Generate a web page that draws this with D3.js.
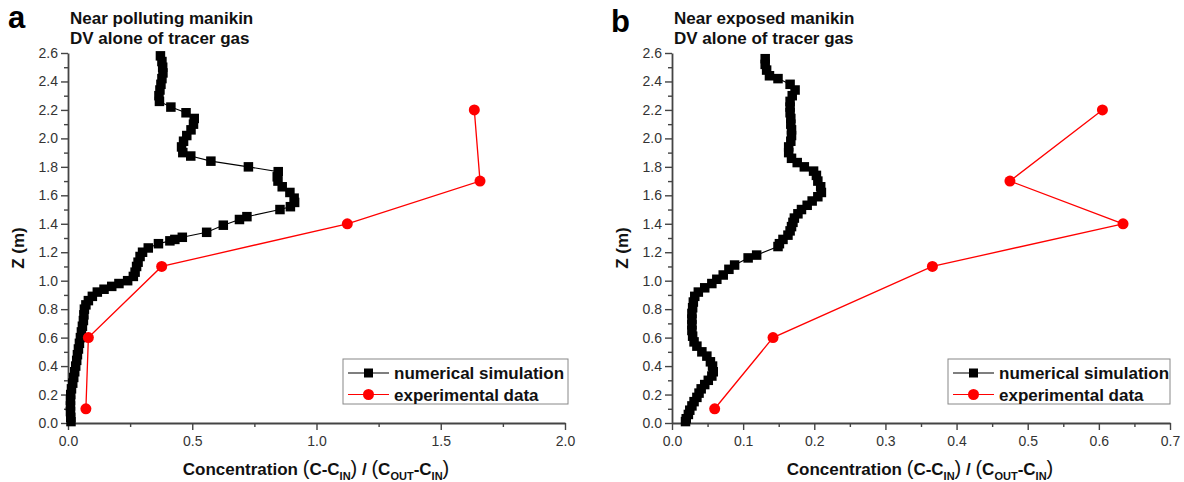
<!DOCTYPE html>
<html>
<head>
<meta charset="utf-8">
<script src="https://cdn.jsdelivr.net/npm/d3@7"></script>
<style>
  body { margin: 0; background: #fff; }
  svg { font-family: "Liberation Sans", Arial, sans-serif; }
</style>
</head>
<body>
<div id="chart"></div>
<script>
// panel a: near polluting manikin — numerical simulation [z, conc]
const simA = [
  [2.58, 0.372], [2.54, 0.378], [2.50, 0.381], [2.46, 0.382], [2.42, 0.378],
  [2.38, 0.374], [2.34, 0.370], [2.30, 0.366], [2.26, 0.368], [2.22, 0.414],
  [2.18, 0.475], [2.14, 0.508], [2.10, 0.505], [2.06, 0.495], [2.02, 0.478],
  [1.98, 0.465], [1.94, 0.457], [1.90, 0.462], [1.876, 0.494], [1.84, 0.575],
  [1.80, 0.726], [1.766, 0.846], [1.73, 0.842], [1.70, 0.845], [1.66, 0.862],
  [1.62, 0.893], [1.58, 0.910], [1.55, 0.912], [1.52, 0.895], [1.50, 0.853],
  [1.45, 0.720], [1.43, 0.690], [1.39, 0.625], [1.34, 0.558], [1.305, 0.460],
  [1.29, 0.430], [1.28, 0.410], [1.26, 0.364], [1.23, 0.323], [1.20, 0.300],
  [1.17, 0.290], [1.13, 0.282], [1.10, 0.276], [1.06, 0.270], [1.03, 0.263],
  [1.00, 0.240], [0.98, 0.205], [0.96, 0.176], [0.94, 0.145], [0.92, 0.118],
  [0.89, 0.098], [0.86, 0.082], [0.83, 0.072], [0.80, 0.066], [0.76, 0.064],
  [0.72, 0.062], [0.68, 0.058], [0.64, 0.054], [0.60, 0.050], [0.56, 0.046],
  [0.52, 0.042], [0.48, 0.038], [0.44, 0.035], [0.40, 0.031], [0.36, 0.027],
  [0.32, 0.023], [0.28, 0.019], [0.24, 0.014], [0.20, 0.011], [0.16, 0.010],
  [0.12, 0.010], [0.08, 0.010], [0.04, 0.011], [0.01, 0.012]
];
// panel a: experimental data [z, conc]
const expA = [[2.2, 1.635], [1.7, 1.658], [1.4, 1.124], [1.1, 0.377], [0.6, 0.082], [0.1, 0.072]];

// panel b: near exposed manikin — numerical simulation [z, conc]
const simB = [
  [2.56, 0.131], [2.52, 0.131], [2.48, 0.133], [2.44, 0.137], [2.42, 0.149],
  [2.38, 0.166], [2.34, 0.173], [2.30, 0.169], [2.26, 0.166], [2.22, 0.166],
  [2.18, 0.166], [2.14, 0.167], [2.10, 0.167], [2.06, 0.168], [2.02, 0.168],
  [1.98, 0.167], [1.94, 0.164], [1.90, 0.164], [1.86, 0.168], [1.83, 0.176],
  [1.80, 0.186], [1.77, 0.199], [1.74, 0.203], [1.70, 0.205], [1.66, 0.209],
  [1.62, 0.210], [1.59, 0.205], [1.56, 0.197], [1.53, 0.190], [1.50, 0.182],
  [1.47, 0.177], [1.44, 0.172], [1.41, 0.170], [1.38, 0.168], [1.35, 0.166],
  [1.32, 0.163], [1.29, 0.156], [1.26, 0.151], [1.24, 0.149], [1.18, 0.119],
  [1.16, 0.107], [1.11, 0.088], [1.08, 0.080], [1.04, 0.072], [1.01, 0.063],
  [0.98, 0.056], [0.95, 0.046], [0.92, 0.037], [0.89, 0.032], [0.85, 0.030],
  [0.81, 0.029], [0.77, 0.028], [0.73, 0.028], [0.69, 0.028], [0.65, 0.028],
  [0.61, 0.029], [0.57, 0.031], [0.54, 0.035], [0.50, 0.042], [0.47, 0.049],
  [0.43, 0.054], [0.40, 0.057], [0.36, 0.058], [0.33, 0.056], [0.30, 0.051],
  [0.27, 0.046], [0.24, 0.041], [0.21, 0.038], [0.18, 0.035], [0.15, 0.031],
  [0.12, 0.028], [0.09, 0.025], [0.06, 0.023], [0.03, 0.020], [0.01, 0.019]
];
// panel b: experimental data [z, conc]
const expB = [[2.2, 0.605], [1.7, 0.475], [1.4, 0.634], [1.1, 0.366], [0.6, 0.142], [0.1, 0.060]];

const yTicks = [0, 0.2, 0.4, 0.6, 0.8, 1.0, 1.2, 1.4, 1.6, 1.8, 2.0, 2.2, 2.4, 2.6];
const xTicksA = [0, 0.5, 1.0, 1.5, 2.0];
const xTicksB = [0, 0.1, 0.2, 0.3, 0.4, 0.5, 0.6, 0.7];
const legendLabels = ["numerical simulation", "experimental data"];

const W = 1184, H = 482;
const svg = d3.select("#chart").append("svg")
    .attr("width", W)
    .attr("height", H);

const axisColor = "#444";

function drawPanel(p) {
    const x = d3.scaleLinear().domain(p.xDomain).range([p.left, p.right]);
    const y = d3.scaleLinear().domain([0, 2.6]).range([423, 53]);
    const g = svg.append("g");

    // minor ticks halfway between majors
    const xMinor = [];
    for (let i = 0; i < p.xTicks.length - 1; i++) xMinor.push((p.xTicks[i] + p.xTicks[i + 1]) / 2);
    const yMinor = [];
    for (let i = 0; i < yTicks.length - 1; i++) yMinor.push((yTicks[i] + yTicks[i + 1]) / 2);

    g.append("g")
        .attr("transform", "translate(0,423)")
        .call(d3.axisBottom(x).tickValues(xMinor).tickSize(4).tickFormat(""))
        .call(a => a.select(".domain").remove());
    g.append("g")
        .attr("transform", `translate(${p.left},0)`)
        .call(d3.axisLeft(y).tickValues(yMinor).tickSize(4).tickFormat(""))
        .call(a => a.select(".domain").remove());

    const xAxis = g.append("g")
        .attr("transform", "translate(0,423)")
        .call(d3.axisBottom(x).tickValues(p.xTicks).tickSize(7).tickSizeOuter(0).tickPadding(6)
            .tickFormat(d3.format(".1f")));
    const yAxis = g.append("g")
        .attr("transform", `translate(${p.left},0)`)
        .call(d3.axisLeft(y).tickValues(yTicks).tickSize(7).tickSizeOuter(0).tickPadding(3)
            .tickFormat(d3.format(".1f")));

    g.selectAll(".tick line").attr("stroke", axisColor).attr("stroke-width", 1.4);
    [xAxis, yAxis].forEach(a => {
        a.select(".domain").attr("stroke", axisColor).attr("stroke-width", 1.8);
        a.selectAll("text").attr("font-size", 14).attr("fill", "#333")
            .attr("font-family", "Liberation Sans, Arial, sans-serif");
    });

    // numerical simulation
    const line = d3.line().x(d => x(d[1])).y(d => y(d[0]));
    g.append("path").datum(p.sim)
        .attr("d", line).attr("fill", "none").attr("stroke", "#000").attr("stroke-width", 1.1);
    const s = 9.5;
    g.selectAll(".sq").data(p.sim).enter().append("rect")
        .attr("x", d => x(d[1]) - s / 2).attr("y", d => y(d[0]) - s / 2)
        .attr("width", s).attr("height", s).attr("fill", "#000");

    // experimental data
    g.append("path").datum(p.exp)
        .attr("d", line).attr("fill", "none").attr("stroke", "#ff0000").attr("stroke-width", 1.3);
    g.selectAll(".dot").data(p.exp).enter().append("circle")
        .attr("cx", d => x(d[1])).attr("cy", d => y(d[0])).attr("r", 5.5)
        .attr("fill", "#ff0000");

    // panel letter and title
    g.append("text").attr("x", p.letterX).attr("y", p.letterY)
        .attr("font-size", 31).attr("font-weight", "bold").attr("fill", "#000").text(p.letter);
    p.title.forEach((t, i) => {
        g.append("text").attr("x", p.left + 2).attr("y", 24 + i * 19.5)
            .attr("font-size", 17).attr("font-weight", "bold").attr("fill", "#111").text(t);
    });

    // y label
    g.append("text")
        .attr("transform", `translate(${p.left - 44},248) rotate(-90)`)
        .attr("text-anchor", "middle").attr("font-size", 17).attr("font-weight", "bold")
        .attr("fill", "#111").text("Z (m)");

    // x label with subscripts
    const xl = g.append("text")
        .attr("x", p.labelX).attr("y", 475)
        .attr("text-anchor", "middle").attr("font-size", 17).attr("font-weight", "bold").attr("fill", "#111");
    const parts = [
        ["Concentration  ", 0], ["(", 0], ["C-C", 0], ["IN", 1], [")", 0], [" / ", 0], ["(", 0], ["C", 0], ["OUT", 1],
        ["-C", 0], ["IN", 1], [")", 0]
    ];
    let shifted = false;
    parts.forEach(([t, sub]) => {
        const ts = xl.append("tspan").text(t);
        if (sub && !shifted) { ts.attr("dy", 5).attr("font-size", 11); shifted = true; }
        else if (sub) { ts.attr("font-size", 11); }
        else if (shifted) { ts.attr("dy", -5); shifted = false; }
        if (t === "(" || t === ")") ts.attr("font-size", 20).attr("font-weight", "normal");
    });

    // legend
    const lg = g.append("g").attr("transform", `translate(${p.legendX},359)`);
    lg.append("rect").attr("width", p.legendW).attr("height", 45)
        .attr("fill", "#fff").attr("stroke", "#888").attr("stroke-width", 1);
    const styles = [{ c: "#000", shape: "sq" }, { c: "#ff0000", shape: "dot" }];
    legendLabels.forEach((lab, i) => {
        const cy = 14 + i * 21.5;
        lg.append("line").attr("x1", 5).attr("x2", 46).attr("y1", cy).attr("y2", cy)
            .attr("stroke", styles[i].c).attr("stroke-width", 1.2);
        if (styles[i].shape === "sq") {
            lg.append("rect").attr("x", 25.5 - 4.5).attr("y", cy - 4.5).attr("width", 9).attr("height", 9)
                .attr("fill", "#000");
        } else {
            lg.append("circle").attr("cx", 25.5).attr("cy", cy).attr("r", 5.5).attr("fill", "#ff0000");
        }
        lg.append("text").attr("x", 51).attr("y", cy + 6)
            .attr("font-size", 17).attr("font-weight", "bold").attr("fill", "#111").text(lab);
    });
}

drawPanel({
    left: 68, right: 565, xDomain: [0, 2], xTicks: xTicksA,
    sim: simA, exp: expA, letter: "a", letterX: 8, letterY: 28,
    title: ["Near polluting manikin", "DV alone of tracer gas"],
    labelX: 316, legendX: 343, legendW: 225
});
drawPanel({
    left: 672, right: 1170, xDomain: [0, 0.7], xTicks: xTicksB,
    sim: simB, exp: expB, letter: "b", letterX: 611, letterY: 32,
    title: ["Near exposed manikin", "DV alone of tracer gas"],
    labelX: 920, legendX: 948, legendW: 222
});
</script>
</body>
</html>
